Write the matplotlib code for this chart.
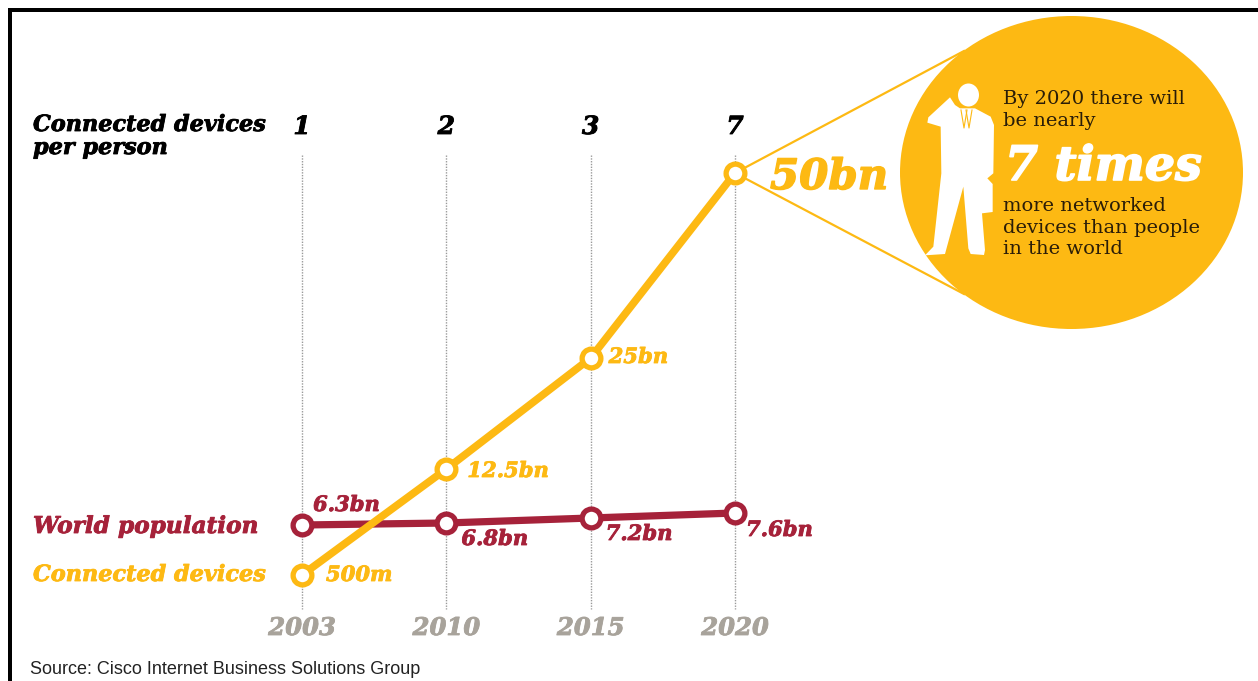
import numpy as np
import matplotlib
matplotlib.use('Agg')
import matplotlib.pyplot as plt
import matplotlib.patheffects as pe
from matplotlib.patches import Ellipse, Polygon, Rectangle

years      = ['2003', '2010', '2015', '2020']
per_person = ['1', '2', '3', '7']
devices    = [0.5, 12.5, 25, 50]
population = [6.3, 6.8, 7.2, 7.6]
dev_labels = ['500m', '12.5bn', '25bn', '50bn']
pop_labels = ['6.3bn', '6.8bn', '7.2bn', '7.6bn']

YEL  = '#FDB913'
RED  = '#A6223A'
GREY = '#A8A39B'
W, H = 1258, 681
SERIF = 'DejaVu Serif'

# the source chart is not on a linear axis, so the scale is read off the picture
scale_v = [-10, 0.5, 6.3, 6.8, 7.2, 7.6, 12.5, 25, 50, 80]
scale_h = [0, 106, 156, 158, 163, 168, 212, 323, 508, 681]
fwd = lambda v: np.interp(v, scale_v, scale_h)
inv = lambda h: np.interp(h, scale_h, scale_v)

def heavy(color, size, stroke=0.6):
    return dict(family=SERIF, weight='bold', style='italic', fontsize=size, color=color,
                va='center', path_effects=[pe.withStroke(linewidth=stroke, foreground=color)])

fig = plt.figure(figsize=(W / 100, H / 100), dpi=100, facecolor='white')

# pixel layer for the decoration
bg = fig.add_axes([0, 0, 1, 1])
bg.set_xlim(0, W)
bg.set_ylim(H, 0)
bg.axis('off')
bg.add_patch(Rectangle((8, 8), W, 4, color='black', lw=0))
bg.add_patch(Rectangle((8, 8), 3.5, H, color='black', lw=0))
bg.plot([735, 964], [173, 51], color=YEL, lw=1.6)
bg.plot([735, 964], [173, 294], color=YEL, lw=1.6)
bg.add_patch(Ellipse((1071.5, 172.5), 343, 313, color=YEL, lw=0))

# man on the phone
man = np.array([(150, 292), (85, 352), (82, 368), (122, 380), (124, 520), (100, 740),
                (75, 766), (135, 762), (190, 560), (205, 745), (212, 762), (252, 765),
                (255, 750), (246, 640), (278, 636), (278, 552), (262, 535), (280, 520),
                (282, 375), (272, 350), (225, 325), (180, 325), (165, 315)], dtype=float)
bg.add_patch(Polygon(man / 3 + [900, 0], closed=True, color='white', lw=0))
bg.add_patch(Ellipse((968.5, 95), 21, 23, color='white', lw=0))
bg.plot([961, 964, 967], [110, 128, 110], color=YEL, lw=0.8)
bg.plot([972, 969, 966], [110, 128, 110], color=YEL, lw=0.8)

bg.text(33, 125, 'Connected devices', **heavy('black', 16.1))
bg.text(33, 148, 'per person', **heavy('black', 16.1))
bg.text(33, 527, 'World population', **heavy(RED, 16.7))
bg.text(33, 575, 'Connected devices', **heavy(YEL, 16.1))

for s, y in [('By 2020 there will', 99), ('be nearly', 121), ('more networked', 206),
             ('devices than people', 228), ('in the world', 249)]:
    bg.text(1003, y, s, family=SERIF, fontsize=14, color='#2A1D08', va='center')
bg.text(1005, 167, '7 times', **heavy('white', 34.2, 1.2))
bg.text(30, 669, 'Source: Cisco Internet Business Solutions Group', family='Liberation Sans',
        fontsize=13, color='#222222', va='center')

# chart layer
ax = fig.add_axes([0, 0, 1, 1], facecolor='none')
ax.set_xlim(-302 / 144.33, (W - 302) / 144.33)
ax.set_yscale('function', functions=(fwd, inv))
ax.set_ylim(-10, 80)
ax.axis('off')

ix = np.arange(len(years))
trans = ax.get_xaxis_transform()
for i in ix:
    ax.plot([i, i], [1 - 155 / H, 1 - 609 / H], transform=trans, color='#9a9a9a',
            lw=1, ls=(0, (1, 1)), zorder=1)
    ax.text(i, 1 - 628 / H, years[i], transform=trans, ha='center', **heavy(GREY, 17.5))
    ax.text(i, 1 - 127 / H, per_person[i], transform=trans, ha='center', **heavy('black', 18))

ax.plot(ix, population, '-o', color=RED, lw=5.2, ms=13.5, mfc='white', mew=3.8, zorder=3)
ax.plot(ix, devices, '-o', color=YEL, lw=5.5, ms=13.5, mfc='white', mew=3.8, zorder=4)

pop_off = [(11, 20), (15, -16), (15, -16), (11, -17)]
dev_off = [(24, 0), (21, -2), (18, 1), (35, -4)]
for i in ix:
    ax.annotate(pop_labels[i], (i, population[i]), xytext=pop_off[i], textcoords='offset pixels',
                **heavy(RED, 15.2))
    ax.annotate(dev_labels[i], (i, devices[i]), xytext=dev_off[i], textcoords='offset pixels',
                **heavy(YEL, 30.2 if i == 3 else 15.2, 1 if i == 3 else 0.6))

fig.savefig('out.png', dpi=100)
